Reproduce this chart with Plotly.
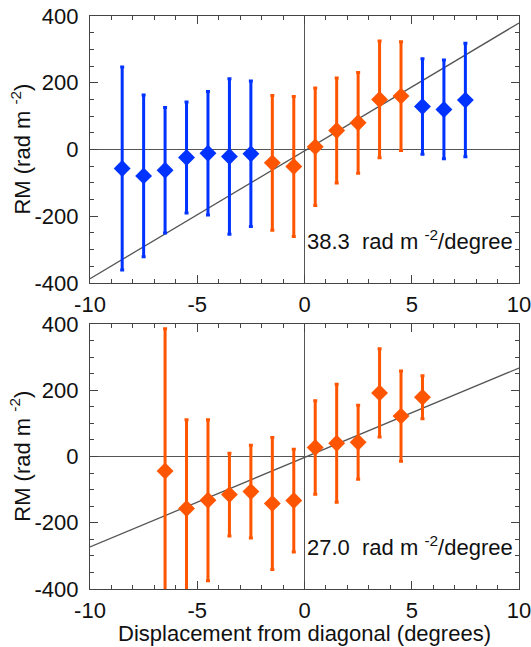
import numpy as np
import plotly.graph_objects as go
from plotly.subplots import make_subplots

# ---- upper panel: RM versus displacement ----
top_blue_x = [-8.5, -7.5, -6.5, -5.5, -4.5, -3.5, -2.5, 5.5, 6.5, 7.5]
top_blue_rm = [-57, -79, -62, -24, -11, -21, -13, 129, 120, 148]
top_blue_err = [304, 242, 188, 166, 185, 233, 218, 143, 148, 170]

top_orange_x = [-1.5, -0.5, 0.5, 1.5, 2.5, 3.5, 4.5]
top_orange_rm = [-40, -51, 8, 57, 80, 150, 160]
top_orange_err = [202, 210, 176, 157, 151, 175, 163]

top_slope = 38.3
top_intercept = -4

# ---- lower panel ----
bot_x = [-6.5, -5.5, -4.5, -3.5, -2.5, -1.5, -0.5, 0.5, 1.5, 2.5, 3.5, 4.5, 5.5]
bot_rm = [-44, -157, -132, -115, -106, -142, -133, 27, 40, 43, 192, 122, 179]
bot_err = [430, 268, 243, 125, 140, 199, 155, 141, 178, 112, 133, 136, 65]

bot_slope = 27.0
bot_intercept = -3

x_ticks = [-10, -5, 0, 5, 10]
x_ticktext = ["-10", "-5", "0", "5", "10"]
y_ticks = [-400, -200, 0, 200, 400]
y_ticktext = ["-400", "-200", "0", "200", "400"]

BLUE = "#0033FF"
ORANGE = "#FF5500"
GREY = "#555555"
FONT = "Liberation Sans"
TXT = "#111111"

fig = make_subplots(rows=2, cols=1, vertical_spacing=0.0716)


def add_points(x, y, err, color, row):
    fig.add_trace(
        go.Scatter(
            x=x, y=y, mode="markers",
            marker=dict(symbol="diamond", size=13, color=color, line=dict(width=0)),
            error_y=dict(type="data", array=err, visible=True,
                         thickness=3, width=2, color=color),
            showlegend=False, cliponaxis=True,
        ),
        row=row, col=1,
    )


def add_fit(slope, intercept, row):
    xs = np.array([x_ticks[0], x_ticks[-1]], dtype=float)
    fig.add_trace(
        go.Scatter(x=xs, y=slope * xs + intercept, mode="lines",
                   line=dict(color=GREY, width=1.3), showlegend=False,
                   hoverinfo="skip"),
        row=row, col=1,
    )


add_fit(top_slope, top_intercept, 1)
add_points(top_blue_x, top_blue_rm, top_blue_err, BLUE, 1)
add_points(top_orange_x, top_orange_rm, top_orange_err, ORANGE, 1)

add_fit(bot_slope, bot_intercept, 2)
add_points(bot_x, bot_rm, bot_err, ORANGE, 2)

axis_common = dict(
    showline=True, linecolor="#444444", linewidth=1.2, mirror="ticks",
    showgrid=False, zeroline=True, zerolinecolor=GREY, zerolinewidth=1,
    ticks="inside", ticklen=8, tickwidth=1, tickcolor="#444444",
    tickfont=dict(family=FONT, size=22, color=TXT), automargin=False,
    ticklabeloverflow="allow",
)

for r in (1, 2):
    fig.update_xaxes(range=[-10, 10], tickvals=x_ticks, ticktext=x_ticktext,
                     minor=dict(dtick=1, ticks="inside", ticklen=4,
                                tickcolor="#444444"),
                     ticklabelstandoff=1, row=r, col=1, **axis_common)
    fig.update_yaxes(range=[-400, 400], tickvals=y_ticks, ticktext=y_ticktext,
                     minor=dict(dtick=50, ticks="inside", ticklen=4,
                                tickcolor="#444444"),
                     ticklabelstandoff=6, row=r, col=1, **axis_common)

fig.update_layout(
    width=531, height=647,
    margin=dict(l=90, r=12, t=16, b=58, autoexpand=False),
    plot_bgcolor="white", paper_bgcolor="white",
    font=dict(family=FONT, size=22, color=TXT),
    showlegend=False,
)
fig.update_layout(
    yaxis=dict(domain=[0.534, 1.0]),
    yaxis2=dict(domain=[0.0, 0.4625]),
)

ann_font = dict(family=FONT, size=22, color=TXT)
fig.add_annotation(x=0.0, y=-270, xref="x", yref="y", xanchor="left",
                   yanchor="middle", showarrow=False, font=ann_font,
                   text=f"{top_slope:.1f}&nbsp; rad m <sup>-2</sup>/degree")
fig.add_annotation(x=0.0, y=-270, xref="x2", yref="y2", xanchor="left",
                   yanchor="middle", showarrow=False, font=ann_font,
                   text=f"{bot_slope:.1f}&nbsp; rad m <sup>-2</sup>/degree")

# axis titles
for yc in (0.767, 0.231):
    fig.add_annotation(x=-0.163, y=yc, xref="paper", yref="paper",
                       xanchor="center", yanchor="middle", textangle=-90,
                       showarrow=False, font=ann_font,
                       text="RM (rad m <sup>-2</sup>)")
fig.add_annotation(x=0.5, y=-0.0768, xref="paper", yref="paper",
                   xanchor="center", yanchor="middle", showarrow=False,
                   borderpad=0,
                   font=dict(family=FONT, size=22, color=TXT),
                   text="Displacement from diagonal (degrees)")

fig.write_html("out.html")
